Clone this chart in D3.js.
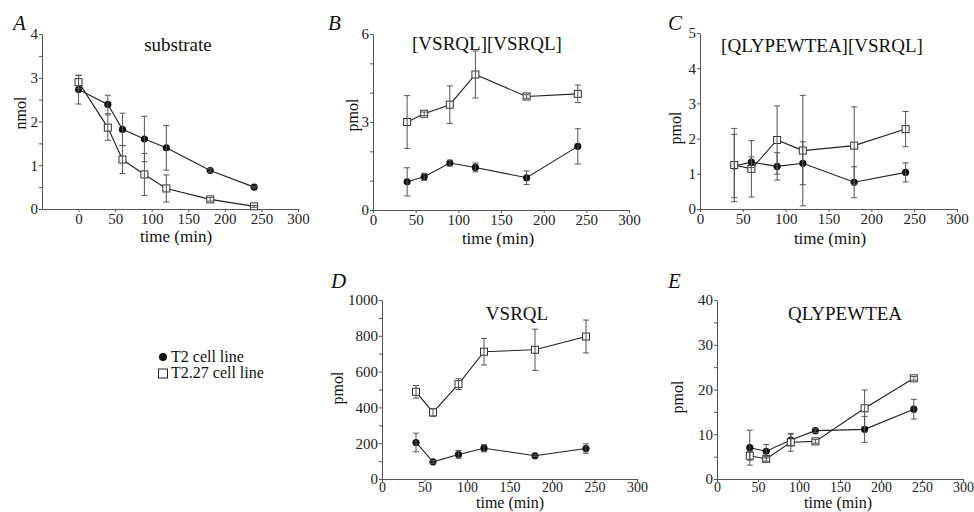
<!DOCTYPE html>
<html>
<head>
<meta charset="utf-8">
<script src="https://cdn.jsdelivr.net/npm/d3@7"></script>
<style>
  body { margin: 0; background: #fff; }
  svg { display: block; font-family: "Liberation Serif", "Times New Roman", serif; }
  .tick text { font-family: "Liberation Serif", "Times New Roman", serif; font-size: 15px; fill: #222; }
  .xsmall .tick text { font-size: 14px; }
  .domain, .tick line { stroke: #555; }
</style>
</head>
<body>
<svg id="chart" width="974" height="512"></svg>
<script>
// sampling times (min)
const timesA = [0, 40, 60, 90, 120, 180, 240];
const times = [40, 60, 90, 120, 180, 240];
const xTicks = [0, 50, 100, 150, 200, 250, 300];

// A: substrate (nmol)
const aT2 = [2.73, 2.39, 1.82, 1.60, 1.40, 0.88, 0.50];
const aT2Err = [0.33, 0.21, 0.37, 0.52, 0.51, 0.04, 0.02];
const aT227 = [2.90, 1.86, 1.13, 0.79, 0.47, 0.22, 0.06];
const aT227Err = [0.15, 0.29, 0.32, 0.48, 0.31, 0.04, 0.02];

// B: [VSRQL][VSRQL] (pmol)
const bT2 = [0.96, 1.13, 1.60, 1.45, 1.10, 2.17];
const bT2Err = [0.48, 0.12, 0.10, 0.15, 0.23, 0.60];
const bT227 = [3.00, 3.28, 3.59, 4.62, 3.87, 3.96];
const bT227Err = [0.90, 0.06, 0.64, 0.80, 0.06, 0.30];

// C: [QLYPEWTEA][VSRQL] (pmol)
const cT2 = [1.22, 1.33, 1.21, 1.30, 0.76, 1.04];
const cT2Err = [0.90, 0.15, 0.39, 0.61, 0.44, 0.27];
const cT227 = [1.25, 1.14, 1.96, 1.66, 1.80, 2.27];
const cT227Err = [1.04, 0.80, 0.97, 1.57, 1.10, 0.50];

// D: VSRQL (pmol)
const dT2 = [204, 96, 137, 172, 130, 170];
const dT2Err = [52, 8, 22, 20, 5, 26];
const dT227 = [487, 372, 530, 711, 722, 796];
const dT227Err = [35, 22, 30, 74, 115, 92];

// E: QLYPEWTEA (pmol)
const eT2 = [7.0, 6.2, 8.7, 10.8, 11.1, 15.6];
const eT2Err = [3.9, 1.5, 1.3, 0.4, 2.9, 2.2];
const eT227 = [5.2, 4.5, 8.2, 8.4, 15.8, 22.5];
const eT227Err = [1.0, 0.5, 2.0, 0.4, 4.1, 0.4];

const legendLabels = ["T2 cell line", "T2.27 cell line"];

const svg = d3.select("#chart");

const panels = [
  { letter: "A", title: "substrate", yLabel: "nmol", t: timesA,
    s1: aT2, e1: aT2Err, s2: aT227, e2: aT227Err,
    xDom: [-50, 300], xR: [42, 298], yDom: [0, 4], yR: [209, 34],
    yMinor: 0.5, yMajor: 1, small: false,
    letterPos: [13, 30], titlePos: [178, 51], yLabPos: [20, 113], xLabPos: [176, 242] },
  { letter: "B", title: "[VSRQL][VSRQL]", yLabel: "pmol", t: times,
    s1: bT2, e1: bT2Err, s2: bT227, e2: bT227Err,
    xDom: [0, 300], xR: [373, 629], yDom: [0, 6], yR: [210, 34],
    yMinor: 1, yMajor: 3, small: false,
    letterPos: [328, 30], titlePos: [487, 50], yLabPos: [352, 115], xLabPos: [498, 244] },
  { letter: "C", title: "[QLYPEWTEA][VSRQL]", yLabel: "pmol", t: times,
    s1: cT2, e1: cT2Err, s2: cT227, e2: cT227Err,
    xDom: [0, 300], xR: [700, 957], yDom: [0, 5], yR: [209, 33],
    yMinor: 1, yMajor: 1, small: false,
    letterPos: [668, 30], titlePos: [822, 52], yLabPos: [675, 128], xLabPos: [830, 244] },
  { letter: "D", title: "VSRQL", yLabel: "pmol", t: times,
    s1: dT2, e1: dT2Err, s2: dT227, e2: dT227Err,
    xDom: [0, 300], xR: [382, 637], yDom: [0, 1000], yR: [479, 300],
    yMinor: 100, yMajor: 200, small: true,
    letterPos: [331, 288], titlePos: [517, 320], yLabPos: [337, 388], xLabPos: [510, 508] },
  { letter: "E", title: "QLYPEWTEA", yLabel: "pmol", t: times,
    s1: eT2, e1: eT2Err, s2: eT227, e2: eT227Err,
    xDom: [0, 300], xR: [717, 963], yDom: [0, 40], yR: [479, 300],
    yMinor: 5, yMajor: 10, small: true,
    letterPos: [668, 288], titlePos: [845, 320], yLabPos: [677, 397], xLabPos: [838, 508] }
];

function drawPanel(p) {
  const g = svg.append("g");
  const x = d3.scaleLinear().domain(p.xDom).range(p.xR);
  const y = d3.scaleLinear().domain(p.yDom).range(p.yR);

  // axes
  g.append("g")
    .attr("class", p.small ? "xsmall" : null)
    .attr("transform", `translate(0,${p.yR[0]})`)
    .call(d3.axisBottom(x).tickValues(xTicks).tickSize(3).tickSizeOuter(0).tickPadding(p.small ? 0 : 1));

  const yTicks = d3.range(p.yDom[0], p.yDom[1] + p.yMinor / 2, p.yMinor);
  g.append("g")
    .attr("transform", `translate(${p.xR[0]},0)`)
    .call(d3.axisLeft(y).tickValues(yTicks).tickSize(3).tickSizeOuter(0).tickPadding(1)
      .tickFormat(d => Math.abs(d / p.yMajor - Math.round(d / p.yMajor)) < 1e-6 ? d : ""));

  // labels
  g.append("text")
    .attr("x", p.letterPos[0]).attr("y", p.letterPos[1])
    .style("font-size", "21px").style("font-style", "italic").attr("fill", "#111")
    .text(p.letter);
  g.append("text")
    .attr("x", p.titlePos[0]).attr("y", p.titlePos[1])
    .attr("text-anchor", "middle").style("font-size", "19px").attr("fill", "#111")
    .text(p.title);
  g.append("text")
    .attr("transform", `translate(${p.yLabPos[0]},${p.yLabPos[1]}) rotate(-90)`)
    .attr("text-anchor", "middle").attr("dy", "0.35em").style("font-size", "16px").attr("fill", "#111")
    .text(p.yLabel);
  g.append("text")
    .attr("x", p.xLabPos[0]).attr("y", p.xLabPos[1])
    .attr("text-anchor", "middle").style("font-size", p.small ? "16px" : "17px").attr("fill", "#111")
    .text("time (min)");

  const line = d3.line().x(d => x(d.t)).y(d => y(d.v));
  const series = [
    { pts: p.t.map((t, i) => ({ t, v: p.s1[i], e: p.e1[i] })), kind: "circle" },
    { pts: p.t.map((t, i) => ({ t, v: p.s2[i], e: p.e2[i] })), kind: "square" }
  ];

  series.forEach(s => {
    g.append("path").datum(s.pts)
      .attr("d", line).attr("fill", "none").attr("stroke", "#222").attr("stroke-width", 1.1);
  });

  series.forEach(s => {
    if (s.kind === "circle") {
      g.selectAll(null).data(s.pts).enter().append("circle")
        .attr("cx", d => x(d.t)).attr("cy", d => y(d.v)).attr("r", 3.6).attr("fill", "#111");
    } else {
      g.selectAll(null).data(s.pts).enter().append("rect")
        .attr("x", d => x(d.t) - 3.5).attr("y", d => y(d.v) - 3.5)
        .attr("width", 7).attr("height", 7)
        .attr("fill", "#fff").attr("stroke", "#333").attr("stroke-width", 1);
    }
  });

  // error bars
  series.forEach(s => {
    const eb = g.selectAll(null).data(s.pts).enter().append("g").attr("stroke", "#555").attr("stroke-width", 1);
    eb.append("line")
      .attr("x1", d => x(d.t)).attr("x2", d => x(d.t))
      .attr("y1", d => y(d.v - d.e)).attr("y2", d => y(d.v + d.e));
    [-1, 1].forEach(k => {
      eb.append("line")
        .attr("x1", d => x(d.t) - 3).attr("x2", d => x(d.t) + 3)
        .attr("y1", d => y(d.v + k * d.e)).attr("y2", d => y(d.v + k * d.e));
    });
  });
}

panels.forEach(drawPanel);

// legend
const legend = svg.append("g").attr("transform", "translate(163,357)");
legend.append("circle").attr("cx", 0).attr("cy", 0).attr("r", 4).attr("fill", "#111");
legend.append("rect").attr("x", -4.5).attr("y", 12).attr("width", 9).attr("height", 9)
  .attr("fill", "#fff").attr("stroke", "#222");
legend.selectAll("text").data(legendLabels).enter().append("text")
  .attr("x", 8).attr("y", (d, i) => 5 + i * 16)
  .style("font-size", "16px").attr("fill", "#111")
  .text(d => d);
</script>
</body>
</html>
